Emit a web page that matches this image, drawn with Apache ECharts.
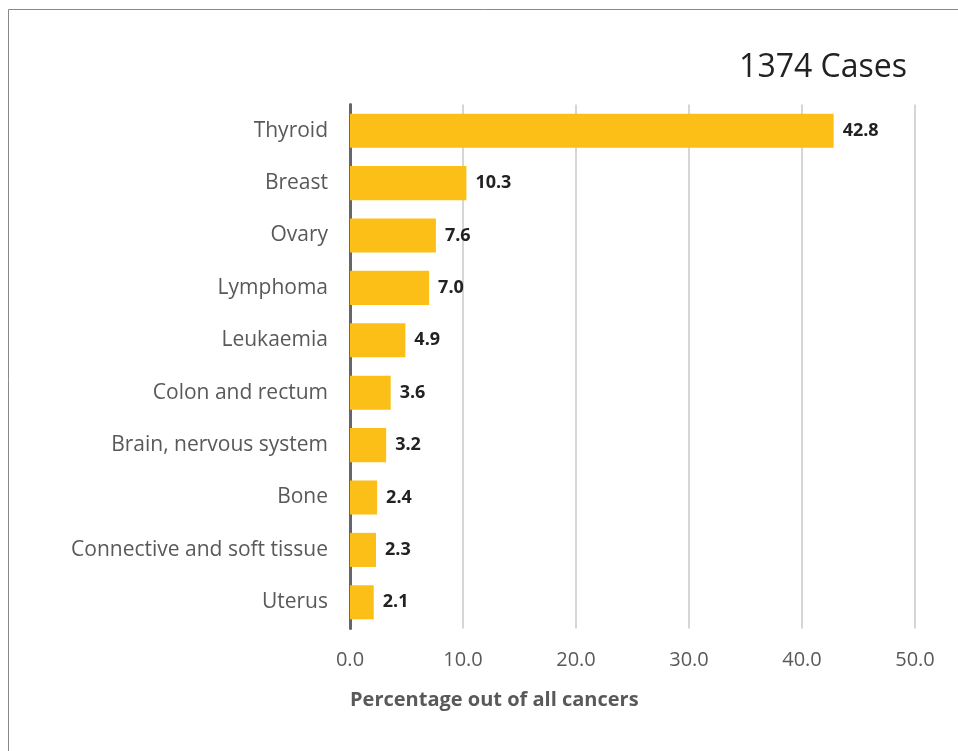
<!DOCTYPE html>
<html><head><meta charset="utf-8">
<script src="https://cdn.jsdelivr.net/npm/echarts@6/dist/echarts.min.js"></script>
<style>html,body{margin:0;padding:0;background:#fff}#c{width:958px;height:751px}</style>
</head><body><div id="c"></div>
<script>
const categories = ["Thyroid","Breast","Ovary","Lymphoma","Leukaemia","Colon and rectum","Brain, nervous system","Bone","Connective and soft tissue","Uterus"];
const values = [42.8,10.3,7.6,7.0,4.9,3.6,3.2,2.4,2.3,2.1];
const title = "1374 Cases";
const axisName = "Percentage out of all cancers";
const FONT = "'Open Sans', 'Noto Sans', sans-serif";
const chart = echarts.init(document.getElementById('c'));
chart.setOption({
  animation:false,
  textStyle:{fontFamily:FONT},
  title:{text:title,right:46,top:47,textStyle:{fontSize:32,fontWeight:'normal',color:'#222',fontFamily:FONT}},
  graphic:[
    {type:'line',shape:{x1:8.5,y1:9.5,x2:958,y2:9.5},style:{stroke:'#888',lineWidth:1}},
    {type:'line',shape:{x1:8.5,y1:9.5,x2:8.5,y2:751},style:{stroke:'#888',lineWidth:1}}
  ],
  grid:{left:350,right:43,top:104.5,bottom:122.5,containLabel:false},
  xAxis:{type:'value',min:0,max:50,interval:10,
    axisLabel:{formatter:v=>v.toFixed(1),fontSize:20,color:'#595959',margin:22,fontFamily:FONT},
    splitLine:{show:true,lineStyle:{color:'#c8c8c8',width:1.5}},
    axisLine:{show:false},axisTick:{show:false},
    name:axisName,nameLocation:'start',nameGap:0,
    nameTextStyle:{fontSize:20,fontWeight:'bold',color:'#595959',align:'left',verticalAlign:'top',padding:[62,0,0,0],fontFamily:FONT}
  },
  yAxis:{type:'category',data:categories,inverse:true,
    axisLine:{show:true,lineStyle:{color:'#666',width:3}},
    axisTick:{show:false},
    axisLabel:{fontSize:21,color:'#595959',margin:22,fontFamily:FONT,padding:[6,0,0,0]}
  },
  series:[{type:'bar',data:values,barCategoryGap:'35%',
    itemStyle:{color:'#FBBF17'},
    label:{show:true,position:'right',distance:9,formatter:p=>p.value.toFixed(1),fontSize:18,fontWeight:'bold',color:'#222',fontFamily:FONT,padding:[4,0,0,0]}
  }]
});
</script></body></html>
